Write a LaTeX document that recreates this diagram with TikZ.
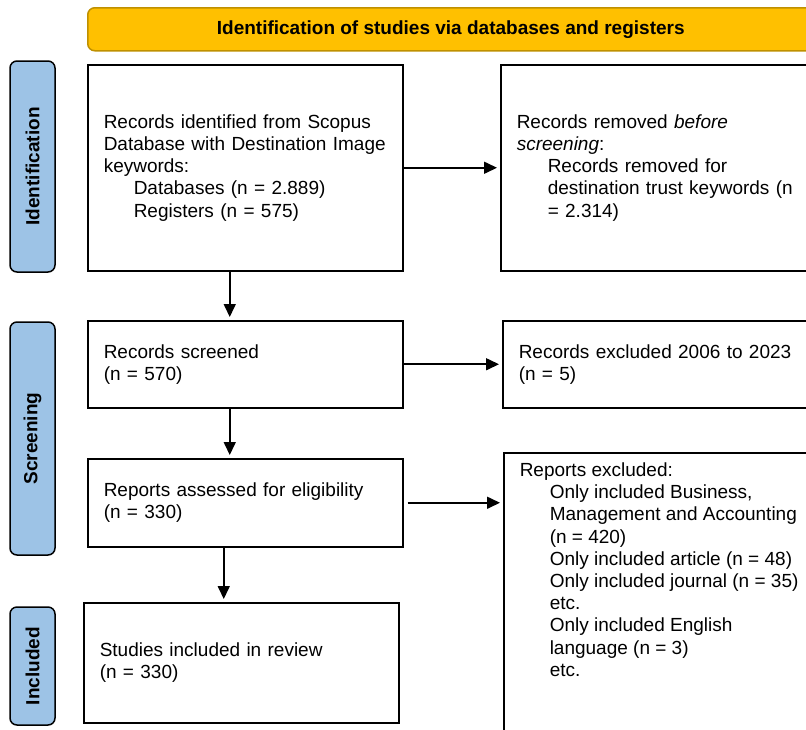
\documentclass[tikz,border=0pt]{standalone}
\usepackage{fontspec}
\setmainfont{Liberation Sans}
\usetikzlibrary{arrows.meta}
\definecolor{headgold}{HTML}{FFC000}
\definecolor{headedge}{HTML}{BF9000}
\definecolor{phaseblue}{HTML}{9DC3E6}
\tikzset{
  stagebox/.style={draw,line width=1.5pt,rectangle,anchor=north west,align=left,
    inner xsep=16pt,inner ysep=0pt,font=\fontsize{19}{22.3}\selectfont},
  phase/.style={draw,line width=1.5pt,rounded corners=7pt,fill=phaseblue,rotate=90,
    minimum height=45pt,inner sep=0pt,font=\fontsize{19}{20}\selectfont\bfseries},
  flow/.style={-{Triangle[length=13pt,width=12pt]},line width=1.6pt,shorten >=3pt}
}
\begin{document}
\begin{tikzpicture}[x=1pt,y=-1pt]
            \useasboundingbox (0,0) rectangle (806,729);
            \node (head) at (87,7) [anchor=north west,draw=headedge,line width=1.5pt,fill=headgold,
                rounded corners=7pt,minimum width=726pt,minimum height=43pt,
                font=\fontsize{19}{20}\selectfont\bfseries] {Identification of studies via databases and registers};
            \node (idphase) at (32.5,166.5) [phase,minimum width=211pt] {Identification};
            \node (scphase) at (32.5,438.5) [phase,minimum width=233pt] {Screening};
            \node (inphase) at (32.5,666) [phase,minimum width=118pt] {Included};
            % left column
            \node (found) at (87,64) [stagebox,text width=283pt,minimum height=206pt]
                {Records identified from Scopus\\Database with Destination Image\\keywords:\\
                 \hspace*{30pt}Databases (n = 2.889)\\\hspace*{30pt}Registers (n = 575)};
            \node (screened) at (87,320) [stagebox,text width=283pt,minimum height=87pt]
                {Records screened\\(n = 570)};
            \node (assessed) at (87,458) [stagebox,text width=283pt,minimum height=88pt]
                {Reports assessed for eligibility\\(n = 330)};
            \node (included) at (83,602) [stagebox,text width=283pt,minimum height=120pt]
                {Studies included in review\\(n = 330)};
            % right column
            \node (removed) at (500,64) [stagebox,text width=308pt,minimum height=206pt]
                {Records removed \emph{before}\\\emph{screening}:\\
                 \hspace*{31pt}Records removed for\\\hspace*{31pt}destination trust keywords (n\\
                 \hspace*{31pt}= 2.314)};
            \node (dropped) at (502,320) [stagebox,text width=308pt,minimum height=87pt]
                {Records excluded 2006 to 2023\\(n = 5)};
            \node (excluded) at (503,452) [draw,line width=1.5pt,anchor=north west,inner xsep=16pt,
                inner ysep=10pt,font=\fontsize{19}{22.2}\selectfont]
                {\begin{minipage}[t][290pt][t]{290pt}
                 Reports excluded:\\
                 \hspace*{30pt}Only included Business,\\
                 \hspace*{30pt}Management and Accounting\\
                 \hspace*{30pt}(n = 420)\\
                 \hspace*{30pt}Only included article (n = 48)\\
                 \hspace*{30pt}Only included journal (n = 35)\\
                 \hspace*{30pt}etc.\\
                 \hspace*{30pt}Only included English\\
                 \hspace*{30pt}language (n = 3)\\
                 \hspace*{30pt}etc.
                 \end{minipage}};
            % connectors
            \draw [flow] (found.east) -- (removed.west);
            \draw [flow] (screened.east) -- (dropped.west);
            \draw [flow,shorten <=4pt] (assessed.east) -- (assessed.east -| excluded.west);
            \draw [flow] ([xshift=-15.5pt]found.south) -- ([xshift=-15.5pt]found.south |- screened.north);
            \draw [flow] ([xshift=-15.5pt]screened.south) -- ([xshift=-15.5pt]screened.south |- assessed.north);
            \draw [flow] ([xshift=-21.5pt]assessed.south) -- ([xshift=-21.5pt]assessed.south |- included.north);
\end{tikzpicture}
\end{document}
